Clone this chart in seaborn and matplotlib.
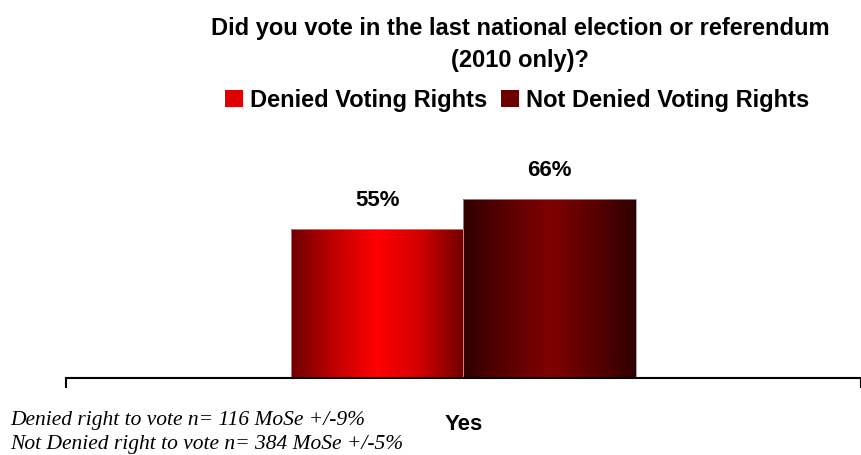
import matplotlib
matplotlib.use("Agg")
import matplotlib.pyplot as plt
import seaborn as sns
import numpy as np
import pandas as pd
from matplotlib.colors import LinearSegmentedColormap
from matplotlib.patches import Rectangle

categories = ["Yes"]
groups = ["Denied Voting Rights", "Not Denied Voting Rights"]
values = [55, 66]
title = "Did you vote in the last national election or referendum\n(2010 only)?"
footnotes = ["Denied right to vote n= 116 MoSe +/-9%",
             "Not Denied right to vote n= 384 MoSe +/-5%"]

grad_colors = {
    "Denied Voting Rights": ["#6e0000", "#c00000", "#ff0000", "#d00000", "#700000"],
    "Not Denied Voting Rights": ["#300000", "#5a0000", "#800000", "#5a0000", "#300000"],
}
flat_colors = {"Denied Voting Rights": "#e00000", "Not Denied Voting Rights": "#6a0000"}

df = pd.DataFrame({"cat": categories * len(groups), "group": groups, "val": values})

sns.set_style("white")
plt.rcParams["font.family"] = ["Liberation Sans", "DejaVu Sans"]
plt.rcParams["text.color"] = "black"
plt.rcParams["xtick.color"] = "black"
plt.rcParams["xtick.labelcolor"] = "black"

fig = plt.figure(figsize=(8.62, 4.55), dpi=100)
ax = fig.add_axes([66 / 862, 77 / 455, 795 / 862, 271 / 455])

sns.barplot(data=df, x="cat", y="val", hue="group", hue_order=groups,
            palette=flat_colors, width=0.433, ax=ax, legend=False,
            edgecolor="#b09090", linewidth=0.6, gap=0)

bars = [p for p in ax.patches if isinstance(p, Rectangle) and p.get_height() > 0]
bars.sort(key=lambda p: p.get_x())
for p, g, v in zip(bars, groups, values):
    x0, w, h = p.get_x(), p.get_width(), p.get_height()
    cmap = LinearSegmentedColormap.from_list(g, grad_colors[g])
    grad = np.linspace(0, 1, 256).reshape(1, -1)
    im = ax.imshow(grad, cmap=cmap, aspect="auto", extent=[x0, x0 + w, 0, h],
                   zorder=p.get_zorder() + 0.1, interpolation="bicubic")
    im.set_clip_path(p)
    p.set_facecolor("none")
    p.set_zorder(p.get_zorder() + 0.2)
    ax.text(x0 + w / 2, h + 10.5, f"{v}%", ha="center", va="center",
            fontsize=16, fontweight="bold", color="black")

ax.set_xlim(-0.5, 0.5)
ax.set_ylim(0, 100)

for s in ["top", "right", "left"]:
    ax.spines[s].set_visible(False)
ax.spines["bottom"].set_color("black")
ax.spines["bottom"].set_linewidth(1.5)
ax.set_yticks([])
ax.set_xticks([0])
ax.set_xticklabels(categories, fontsize=16, fontweight="bold")
ax.tick_params(axis="x", which="major", bottom=True, length=0, pad=26)
ax.set_xticks([-0.5, 0.5], minor=True)
ax.tick_params(axis="x", which="minor", bottom=True, length=7, width=1.5,
               direction="out", color="black")
ax.set_xlabel("")
ax.set_ylabel("")

fig.text(520 / 862, 1 - 44 / 455, title, ha="center", va="center",
         fontsize=17, fontweight="bold", linespacing=1.5, color="black")

handles = [Rectangle((0, 0), 1, 1, facecolor=flat_colors[g], edgecolor="none") for g in groups]
fig.legend(handles, groups, loc="center", bbox_to_anchor=(517 / 862, 1 - 100 / 455),
           ncol=2, frameon=False, handlelength=0.75, handleheight=0.75,
           handletextpad=0.3, columnspacing=0.6, labelcolor="black",
           prop={"weight": "bold", "size": 17})

serif = ["Liberation Serif", "DejaVu Serif"]
fig.text(10 / 862, 1 - 420 / 455, footnotes[0], ha="left", va="center",
         fontsize=15.5, style="italic", family=serif, color="black")
fig.text(10 / 862, 1 - 444 / 455, footnotes[1], ha="left", va="center",
         fontsize=15.5, style="italic", family=serif, color="black")

fig.savefig("out.png", dpi=100)
